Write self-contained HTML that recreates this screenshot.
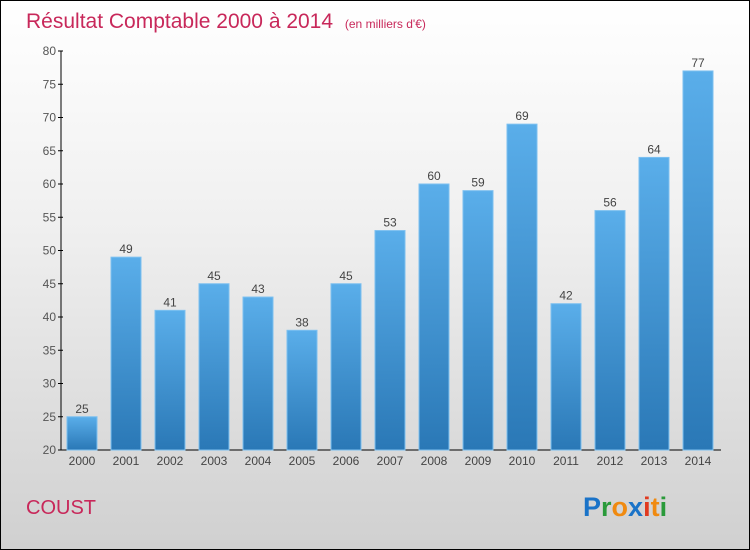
<!DOCTYPE html>
<html><head><meta charset="utf-8"><style>
body{margin:0}
#c{width:750px;height:550px;position:relative;box-sizing:border-box;border:1px solid #000;background:linear-gradient(#ffffff,#f0f0f0 40%,#d0d0d0);font-family:"Liberation Sans",sans-serif;overflow:hidden}
</style></head><body>
<div id="c">
<svg width="750" height="550" style="position:absolute;left:-1px;top:-1px" id="s">
<defs><linearGradient id="g" x1="0" y1="0" x2="0" y2="1"><stop offset="0" stop-color="#5aaeea"/><stop offset="1" stop-color="#2a78b6"/></linearGradient></defs>
<text x="26" y="28" font-size="21" fill="#c8285a">Résultat Comptable 2000 à 2014 <tspan font-size="12" dx="6">(en milliers d'€)</tspan></text>
<text x="26" y="514" font-size="20" fill="#c8285a">COUST</text>
<text x="583" y="516" font-size="27" font-weight="bold"><tspan fill="#1a73c8">P</tspan><tspan fill="#2a9a3a">r</tspan><tspan fill="#f08a10">o</tspan><tspan fill="#1a73c8">x</tspan><tspan fill="#e03a20">i</tspan><tspan fill="#f08a10">t</tspan><tspan fill="#2a9a3a">i</tspan></text>
<g id="plot"></g>
</svg>
</div>
<script>
const categories=["2000","2001","2002","2003","2004","2005","2006","2007","2008","2009","2010","2011","2012","2013","2014"];
const values=[25,49,41,45,43,38,45,53,60,59,69,42,56,64,77];
const yTicks=[20,25,30,35,40,45,50,55,60,65,70,75,80];
const ns="http://www.w3.org/2000/svg";
const g=document.getElementById('plot');
const y0=450,y1=51,vmin=20,vmax=80;
function y(v){return y0-(v-vmin)/(vmax-vmin)*(y0-y1);}
function x(i){return 67+44*i;}
function el(t,a,txt){const e=document.createElementNS(ns,t);for(const k in a)e.setAttribute(k,a[k]);if(txt!=null)e.textContent=txt;g.appendChild(e);return e;}
const ya=el('line',{x1:61,y1:y1,x2:61,y2:y0,stroke:'#000'});


const xa=el('line',{x1:61,y1:y0,x2:721,y2:y0,stroke:'#000'});


yTicks.forEach(t=>{
 el('line',{x1:58,y1:y(t),x2:63,y2:y(t),stroke:'#000'});
 const tx=el('text',{x:56,y:y(t)+4,'font-size':12,fill:'#555','text-anchor':'end'},t);
 
 
});
categories.forEach((c,i)=>{
 const v=values[i];
 const r=el('rect',{x:x(i),y:y(v),width:30,height:y0-y(v),fill:'url(#g)',stroke:'#7cc0f0','stroke-width':1});
 
 
 const l=el('text',{x:x(i)+15,y:y(v)-4,'font-size':12,fill:'#444','text-anchor':'middle'},v);
 
 
 const xl=el('text',{x:x(i)+15,y:465,'font-size':12,fill:'#444','text-anchor':'middle'},c);
 
 
});
</script>
</body></html>
